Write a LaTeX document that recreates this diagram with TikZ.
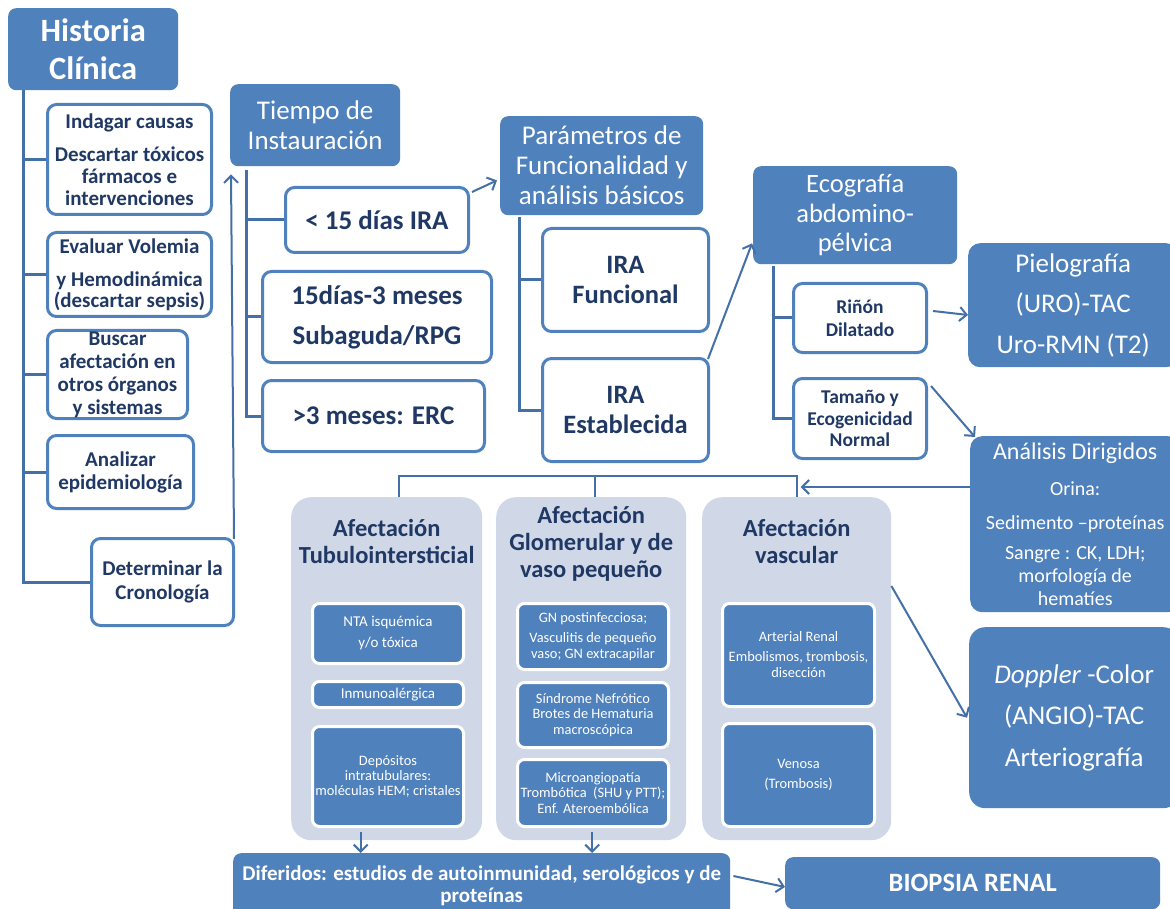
\documentclass[tikz,border=0pt]{standalone}
\usepackage{fontspec}
\setmainfont{Carlito}
\usetikzlibrary{arrows.meta}
\definecolor{bfill}{HTML}{4F81BD}
\definecolor{navy}{HTML}{1F3864}
\definecolor{linec}{HTML}{4470A8}
\definecolor{panelc}{HTML}{D0D8E8}
\newcommand\fsz[2]{\fontsize{#1}{#2}\selectfont}
\tikzset{
 fbox/.style={fill=bfill, rounded corners=8pt, text=white, align=center, inner sep=0pt, anchor=north west},
 obox/.style={draw=bfill, line width=3pt, fill=white, rounded corners=9pt, text=navy, align=center, inner sep=0pt, anchor=north west},
 panel/.style={fill=panelc, rounded corners=20pt, anchor=north west, inner sep=0pt},
 ibox/.style={fill=bfill, draw=white, line width=3pt, rounded corners=7pt, text=white, align=center, inner sep=0pt, anchor=north west, font=\fsz{15}{16}},
 ptitle/.style={text=navy, align=center, font=\bfseries\fsz{24.5}{27}, inner sep=0pt},
 tree/.style={draw=linec, line width=3pt},
 arr/.style={draw=linec, line width=2pt, -{Straight Barb[length=7pt,width=14pt,line width=2pt]}},
 thinl/.style={draw=linec, line width=2pt},
}
\begin{document}
\begin{tikzpicture}[x=1pt,y=-1pt]
\useasboundingbox[fill=white] (0,0) rectangle (1170,909);
% Historia clinica column
\node[fbox, minimum width=170, minimum height=82, font=\bfseries\fsz{32.5}{38}] (hc) at (8,8) {Historia\\Clínica};
\node[obox, minimum width=164, minimum height=110, font=\bfseries\fsz{21}{22}] (ind) at (46,103) {Indagar causas\\[11pt]Descartar tóxicos\\fármacos e\\intervenciones};
\node[obox, minimum width=164, minimum height=84, font=\bfseries\fsz{21}{21}] (eva) at (46,231) {Evaluar Volemia\\[12pt]y Hemodinámica\\(descartar sepsis)};
\node[obox, minimum width=140, minimum height=88, font=\bfseries\fsz{21}{23}] (bus) at (46,329) {Buscar\\afectación en\\otros órganos\\y sistemas};
\node[obox, minimum width=146, minimum height=73, font=\bfseries\fsz{21}{23}] (ana2) at (46,434) {Analizar\\epidemiología};
\node[obox, minimum width=142, minimum height=87, font=\bfseries\fsz{21}{24}] (det) at (90,537) {Determinar la\\Cronología};
\draw[tree] ([xshift=15pt]hc.south west) |- (ind.west);
\draw[tree] ([xshift=15pt]hc.south west) |- (eva.west);
\draw[tree] ([xshift=15pt]hc.south west) |- (bus.west);
\draw[tree] ([xshift=15pt]hc.south west) |- (ana2.west);
\draw[tree] ([xshift=15pt]hc.south west) |- (det.west);
% Tiempo
\node[fbox, minimum width=170, minimum height=82, font=\fsz{27}{30}] (tie) at (230,84) {Tiempo de\\Instauración};
\draw[arr] ([xshift=-1pt,yshift=-2pt]det.north east) -- ([xshift=1pt,yshift=-8pt]tie.south west);
\node[obox, minimum width=183, minimum height=65, font=\bfseries\fsz{27}{28}] (t1) at (284,186) {< 15 días IRA};
\node[obox, minimum width=229, minimum height=91, font=\bfseries\fsz{27}{40}] (t2) at (261,270) {15días-3 meses\\Subaguda/RPG};
\node[obox, minimum width=222, minimum height=71, font=\bfseries\fsz{27}{28}] (t3) at (261,379) {>3 meses: ERC};
\draw[tree] ([xshift=16pt,yshift=-4pt]tie.south west) |- (t1.west);
\draw[tree] ([xshift=16pt,yshift=-4pt]tie.south west) |- (t2.west);
\draw[tree] ([xshift=16pt,yshift=-4pt]tie.south west) |- (t3.west);
% Parametros
\node[fbox, minimum width=203, minimum height=99, font=\fsz{27}{30}] (par) at (500,116) {Parámetros de\\Funcionalidad y\\análisis básicos};
\draw[arr] ([xshift=2pt,yshift=-6pt]t1.north east) -- ([xshift=-3pt,yshift=35pt]par.south west);
\node[obox, minimum width=166, minimum height=103, font=\bfseries\fsz{26.5}{30}] (irf) at (541,227) {IRA\\Funcional};
\node[obox, minimum width=166, minimum height=103, font=\bfseries\fsz{26.5}{30}] (ire) at (541,357) {IRA\\Establecida};
\draw[tree] ([xshift=19pt,yshift=-2pt]par.south west) |- (irf.west);
\draw[tree] ([xshift=19pt,yshift=-2pt]par.south west) |- (ire.west);
% Ecografia
\node[fbox, minimum width=204, minimum height=98, font=\fsz{26.5}{29.5}] (eco) at (753,166) {Ecografía\\abdomino-\\pélvica};
\draw[arr] ([xshift=-2pt,yshift=-2pt]ire.north east) -- ([xshift=-1pt,yshift=21pt]eco.south west);
\node[obox, minimum width=133, minimum height=69, font=\bfseries\fsz{19.5}{23}] (rin) at (792,282) {Riñón\\Dilatado};
\node[obox, minimum width=133, minimum height=80, font=\bfseries\fsz{19.5}{21.5}] (tam) at (792,377) {Tamaño y\\Ecogenicidad\\Normal};
\draw[tree] ([xshift=20pt,yshift=-2pt]eco.south west) |- (rin.west);
\draw[tree] ([xshift=20pt,yshift=-2pt]eco.south west) |- (tam.west);
% Right column
\node[fbox, minimum width=210, minimum height=124, rounded corners=12pt, font=\fsz{27}{40.5}] (pie) at (968,243) {Pielografía\\(URO)-TAC\\Uro-RMN (T2)};
\draw[arr] ([xshift=5pt,yshift=7pt]rin.east) -- ([yshift=3pt]rin.east -| pie.west);
\node[fbox, minimum width=210, minimum height=176, rounded corners=12pt, font=\fsz{20}{23}] (adi) at (970,436) {{\fsz{24}{24}Análisis Dirigidos}\\[13pt]Orina:\\[11pt]Sedimento –proteínas\\[7pt]Sangre : CK, LDH;\\morfología de\\hematíes};
\draw[arr] ([xshift=3pt,yshift=-9pt]tam.north east) -- ([xshift=5pt,yshift=-1pt]adi.north west);
\node[fbox, minimum width=210, minimum height=181, rounded corners=16pt, font=\fsz{27}{41.5}] (dop) at (969,627) {\textit{Doppler} -Color\\(ANGIO)-TAC\\Arteriografía};
% Panels
\node[panel, minimum width=191, minimum height=343] (p1) at (291,497) {};
\node[panel, minimum width=190, minimum height=343] (p2) at (496,497) {};
\node[panel, minimum width=189, minimum height=343] (p3) at (702,497) {};
\node[ptitle, anchor=north] (p1t) at ([yshift=-22pt]p1.north) {Afectación\\Tubulointersticial};
\node[ptitle, anchor=north] (p2t) at ([yshift=-9pt]p2.north) {Afectación\\Glomerular y de\\vaso pequeño};
\node[ptitle, anchor=north] (p3t) at ([yshift=-22pt]p3.north) {Afectación\\vascular};
\coordinate (bk) at (0,476);
\draw[thinl] ([xshift=12pt]p1.north) -- ([xshift=12pt]p1.north |- bk) -- (p3.north |- bk) -- (p3.north);
\draw[thinl] ([xshift=4pt]p2.north |- bk) -- ([xshift=4pt]p2.north);
\coordinate (aa) at (0,487);
\draw[arr] (adi.west |- aa) -- ([xshift=4pt]p3.north |- aa);
\draw[arr] ([yshift=-89pt]p3.north east) -- ([xshift=-2pt]dop.west);
% inner boxes
\node[ibox, minimum width=151, minimum height=60] (b11) at (311,602) {NTA isquémica\\[5pt]y/o tóxica};
\node[ibox, minimum width=151, minimum height=26] (b12) at (311,680) {Inmunoalérgica};
\node[ibox, minimum width=151, minimum height=100, font=\fsz{14.4}{15}] (b13) at (311,725) {Depósitos\\intratubulares:\\moléculas HEM; cristales};
\node[ibox, minimum width=151, minimum height=66, font=\fsz{14.4}{15.5}] (b21) at (516,602) {GN postinfecciosa;\\[5pt]Vasculitis de pequeño\\vaso; GN extracapilar};
\node[ibox, minimum width=151, minimum height=65, font=\fsz{14.4}{15.5}] (b22) at (516,681) {Síndrome Nefrótico\\Brotes de Hematuria\\macroscópica};
\node[ibox, minimum width=151, minimum height=67, font=\fsz{14.4}{15.5}] (b23) at (516,758) {Microangiopatía\\Trombótica\ \ (SHU y PTT);\\Enf. Ateroembólica};
\node[ibox, minimum width=152, minimum height=103, font=\fsz{14.4}{16}] (b31) at (721,602) {Arterial Renal\\[4pt]Embolismos, trombosis,\\disección};
\node[ibox, minimum width=152, minimum height=103, font=\fsz{14.4}{20}] (b32) at (721,722) {Venosa\\(Trombosis)};
% bottom
\node[fbox, minimum width=497, minimum height=65, font=\bfseries\fsz{21}{22}] (dif) at (233,853) {Diferidos: estudios de autoinmunidad, serológicos y de\\proteínas};
\node[fbox, minimum width=375, minimum height=52, font=\bfseries\fsz{26.5}{24}] (bio) at (785,857) {BIOPSIA RENAL};
\draw[arr] ([xshift=-26pt,yshift=8pt]p1.south) -- ([xshift=-26pt]p1.south |- dif.north);
\draw[arr] ([xshift=1pt,yshift=8pt]p2.south) -- ([xshift=1pt]p2.south |- dif.north);
\draw[arr] ([xshift=3pt,yshift=-23pt]dif.north east) -- ([yshift=-30pt]bio.north west);
\end{tikzpicture}
\end{document}
